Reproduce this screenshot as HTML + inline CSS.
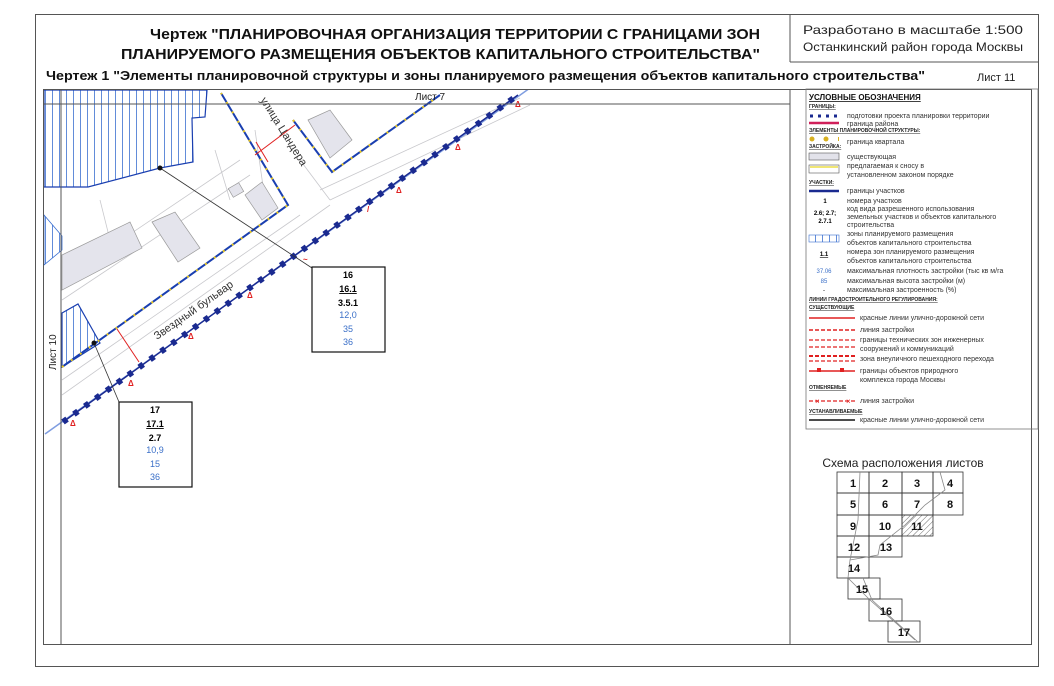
<!DOCTYPE html>
<html><head><meta charset="utf-8"><style>
html,body{margin:0;padding:0;background:#fff}
svg{display:block}
text{font-family:"Liberation Sans",sans-serif}
.lg{font-size:7px;fill:#333}
.hd{font-size:5px;fill:#222;text-decoration:underline;font-weight:bold}
</style></head><body>
<svg width="1054" height="686" viewBox="0 0 1054 686" xmlns="http://www.w3.org/2000/svg">
<defs>
<pattern id="vh" width="7" height="8" patternUnits="userSpaceOnUse"><rect width="7" height="8" fill="#fff"/><line x1="3.5" y1="0" x2="3.5" y2="8" stroke="#3a6fd0" stroke-width="0.8"/></pattern>
<pattern id="dh" width="4" height="4" patternUnits="userSpaceOnUse" patternTransform="rotate(45)"><line x1="0" y1="0" x2="0" y2="4" stroke="#333" stroke-width="0.7"/></pattern>
<clipPath id="mc"><rect x="44" y="90" width="746" height="554"/></clipPath>
</defs>
<rect x="35.5" y="14.5" width="1003" height="652" fill="none" stroke="#555" stroke-width="1"/>
<line x1="790" y1="14" x2="790" y2="62" stroke="#555"/>
<line x1="790" y1="62" x2="1038" y2="62" stroke="#555"/>
<text x="150" y="39" font-size="15" font-weight="bold" fill="#111" textLength="610" lengthAdjust="spacingAndGlyphs">Чертеж "ПЛАНИРОВОЧНАЯ ОРГАНИЗАЦИЯ ТЕРРИТОРИИ С ГРАНИЦАМИ ЗОН</text>
<text x="121" y="59" font-size="15" font-weight="bold" fill="#111" textLength="639" lengthAdjust="spacingAndGlyphs">ПЛАНИРУЕМОГО РАЗМЕЩЕНИЯ ОБЪЕКТОВ КАПИТАЛЬНОГО СТРОИТЕЛЬСТВА"</text>
<text x="803" y="34" font-size="12" fill="#222" textLength="220" lengthAdjust="spacingAndGlyphs">Разработано в масштабе 1:500</text>
<text x="803" y="51" font-size="12" fill="#222" textLength="220" lengthAdjust="spacingAndGlyphs">Останкинский район города Москвы</text>
<text x="46" y="80" font-size="12.5" font-weight="bold" fill="#111" textLength="879" lengthAdjust="spacingAndGlyphs">Чертеж 1 "Элементы планировочной структуры и зоны планируемого размещения объектов капитального строительства"</text>
<text x="977" y="81" font-size="11" fill="#222">Лист 11</text>
<rect x="43.5" y="89.5" width="988" height="555" fill="none" stroke="#555"/>
<line x1="790" y1="90" x2="790" y2="644" stroke="#555"/>

<g clip-path="url(#mc)">
<polygon points="44,90 207,90 205,117 192,118 193,162 160,168 88,187 44,187" fill="url(#vh)" stroke="#1a3fb0" stroke-width="1.2"/>
<polygon points="44,215 62,236 62,250 44,265" fill="url(#vh)" stroke="#3a6fd0" stroke-width="0.8"/>
<polygon points="62,313 78,304 100,343 62,367" fill="url(#vh)" stroke="#1a3fb0" stroke-width="1.2"/>
<g stroke="#c8c8cc" stroke-width="0.8" fill="none">
<line x1="62" y1="380" x2="300" y2="215"/>
<line x1="62" y1="395" x2="330" y2="205"/>
<line x1="62" y1="280" x2="240" y2="160"/>
<line x1="62" y1="300" x2="250" y2="175"/>
<line x1="320" y1="190" x2="520" y2="98"/>
<line x1="330" y1="200" x2="530" y2="105"/>
<line x1="300" y1="160" x2="330" y2="200"/>
<line x1="255" y1="130" x2="265" y2="200"/>
<line x1="215" y1="150" x2="230" y2="200"/>
<line x1="100" y1="200" x2="110" y2="240"/>
</g>
<g fill="#e4e4ec" stroke="#999" stroke-width="0.7">
<polygon points="62,255 130,222 142,248 62,290"/>
<polygon points="152,222 175,212 200,248 178,262"/>
<polygon points="245,195 262,182 278,208 262,220"/>
<polygon points="308,120 330,110 352,140 330,158"/>
<rect x="230" y="185" width="12" height="10" transform="rotate(-30 236 190)"/>
</g>
<g fill="none">
<polyline points="62,367 288,205 221,93" stroke="#1a3fb0" stroke-width="2"/>
<polyline points="62,367 288,205 221,93" stroke="#e8c820" stroke-width="2" stroke-dasharray="2 9"/>
<polyline points="293,120 332,172 440,95" stroke="#1a3fb0" stroke-width="2"/>
<polyline points="293,120 332,172 440,95" stroke="#e8c820" stroke-width="2" stroke-dasharray="2 9"/>
<line x1="45" y1="434" x2="530" y2="88" stroke="#7f9de0" stroke-width="1.5"/>
<line x1="63" y1="422" x2="518" y2="95" stroke="#1a2a90" stroke-width="1.5"/>
<line x1="63" y1="422" x2="518" y2="95" stroke="#1a2a90" stroke-width="6" stroke-dasharray="5 8.4"/>
</g>
<g stroke="#e02020" stroke-width="1" fill="none">
<line x1="117" y1="329" x2="139" y2="362"/>
<line x1="256" y1="142" x2="268" y2="162"/>
<line x1="255" y1="155" x2="295" y2="125"/>
</g>
<g fill="#e02020" font-size="8" font-weight="bold">
<text x="70" y="426">Δ</text><text x="128" y="386">Δ</text><text x="188" y="339">Δ</text><text x="247" y="298">Δ</text>
<text x="396" y="193">Δ</text><text x="455" y="150">Δ</text><text x="515" y="107">Δ</text><text x="367" y="212">/</text><text x="303" y="262">~</text>
</g>
<line x1="61" y1="90" x2="61" y2="644" stroke="#555"/>
<line x1="44" y1="104" x2="790" y2="104" stroke="#555"/>
<text x="415" y="100" font-size="10" fill="#222">Лист 7</text>
<text transform="translate(56,370) rotate(-90)" font-size="10" fill="#222">Лист 10</text>
<text transform="translate(260,100) rotate(58)" font-size="11" fill="#333">улица Цандера</text>
<text transform="translate(157,340) rotate(-35)" font-size="11" fill="#333">Звездный бульвар</text>
</g>
<line x1="160" y1="168" x2="312" y2="268" stroke="#333" stroke-width="0.8"/>
<circle cx="160" cy="168" r="2.5" fill="#111"/>
<line x1="94" y1="343" x2="119" y2="402" stroke="#333" stroke-width="0.8"/>
<circle cx="94" cy="343" r="2.5" fill="#111"/>
<rect x="312" y="267" width="73" height="85" fill="#fff" stroke="#111" stroke-width="1.2"/>
<g font-size="9" text-anchor="middle">
<text x="348" y="278" font-weight="bold">16</text>
<text x="348" y="292" font-weight="bold" text-decoration="underline">16.1</text>
<text x="348" y="306" font-weight="bold">3.5.1</text>
<text x="348" y="318" fill="#3a6fc8">12,0</text>
<text x="348" y="332" fill="#3a6fc8">35</text>
<text x="348" y="345" fill="#3a6fc8">36</text>
</g>
<rect x="119" y="402" width="73" height="85" fill="#fff" stroke="#111" stroke-width="1.2"/>
<g font-size="9" text-anchor="middle">
<text x="155" y="413" font-weight="bold">17</text>
<text x="155" y="427" font-weight="bold" text-decoration="underline">17.1</text>
<text x="155" y="441" font-weight="bold">2.7</text>
<text x="155" y="453" fill="#3a6fc8">10,9</text>
<text x="155" y="467" fill="#3a6fc8">15</text>
<text x="155" y="480" fill="#3a6fc8">36</text>
</g>

<rect x="806" y="89" width="232" height="340" fill="none" stroke="#777" stroke-width="0.8"/>
<text x="809" y="100" font-size="8" font-weight="bold" text-decoration="underline" fill="#111">УСЛОВНЫЕ ОБОЗНАЧЕНИЯ</text>
<text class="hd" x="809" y="108">ГРАНИЦЫ:</text>
<line x1="810" y1="116" x2="839" y2="116" stroke="#1a2a90" stroke-width="3" stroke-dasharray="3 5"/>
<text class="lg" x="847" y="118">подготовки проекта планировки территории</text>
<line x1="809" y1="123" x2="839" y2="123" stroke="#d0205a" stroke-width="2.5"/>
<text class="lg" x="847" y="126">граница района</text>
<text class="hd" x="809" y="132">ЭЛЕМЕНТЫ ПЛАНИРОВОЧНОЙ СТРУКТУРЫ:</text>
<circle cx="812" cy="139" r="2.5" fill="#d8b020"/><circle cx="826" cy="139" r="2.5" fill="#d8b020"/><rect x="838" y="137" width="1" height="4" fill="#d8b020"/>
<text class="lg" x="847" y="144">граница квартала</text>
<text class="hd" x="809" y="148">ЗАСТРОЙКА:</text>
<rect x="809" y="153" width="30" height="7" fill="#e2e2ea" stroke="#555" stroke-width="0.6"/>
<text class="lg" x="847" y="159">существующая</text>
<rect x="809" y="165" width="30" height="8" fill="#fff" stroke="#555" stroke-width="0.6"/>
<line x1="810" y1="167" x2="838" y2="167" stroke="#e8d820" stroke-width="1.2"/>
<text class="lg" x="847" y="168">предлагаемая к сносу в</text>
<text class="lg" x="847" y="177">установленном законом порядке</text>
<text class="hd" x="809" y="184">УЧАСТКИ:</text>
<line x1="809" y1="191" x2="839" y2="191" stroke="#1a2a90" stroke-width="2.5"/>
<text class="lg" x="847" y="193">границы участков</text>
<text x="825" y="203" font-size="6" font-weight="bold" text-anchor="middle">1</text>
<text class="lg" x="847" y="203">номера участков</text>
<text class="lg" x="847" y="211">код вида разрешенного использования</text>
<text x="825" y="215" font-size="6" font-weight="bold" text-anchor="middle">2.6; 2.7;</text>
<text x="825" y="223" font-size="6" font-weight="bold" text-anchor="middle">2.7.1</text>
<text class="lg" x="847" y="219">земельных участков и объектов капитального</text>
<text class="lg" x="847" y="227">строительства</text>
<rect x="809" y="235" width="30" height="7" fill="url(#vh)" stroke="#3a6fd0" stroke-width="0.6"/>
<text class="lg" x="847" y="236">зоны планируемого размещения</text>
<text class="lg" x="847" y="245">объектов капитального строительства</text>
<text x="824" y="256" font-size="6" font-weight="bold" text-anchor="middle" text-decoration="underline">1.1</text>
<text class="lg" x="847" y="254">номера зон планируемого размещения</text>
<text class="lg" x="847" y="263">объектов капитального строительства</text>
<text x="824" y="273" font-size="6" fill="#3a6fc8" text-anchor="middle">37.06</text>
<text class="lg" x="847" y="273">максимальная плотность застройки (тыс кв м/га</text>
<text x="824" y="283" font-size="6" fill="#3a6fc8" text-anchor="middle">85</text>
<text class="lg" x="847" y="283">максимальная высота застройки (м)</text>
<text x="824" y="292" font-size="6" text-anchor="middle">-</text>
<text class="lg" x="847" y="292">максимальная застроенность (%)</text>
<text class="hd" x="809" y="301">ЛИНИИ ГРАДОСТРОИТЕЛЬНОГО РЕГУЛИРОВАНИЯ:</text>
<text class="hd" x="809" y="309">СУЩЕСТВУЮЩИЕ</text>
<line x1="809" y1="318" x2="855" y2="318" stroke="#e02020" stroke-width="1.5"/>
<text class="lg" x="860" y="320">красные линии улично-дорожной сети</text>
<line x1="809" y1="330" x2="855" y2="330" stroke="#e02020" stroke-width="1.5" stroke-dasharray="4 2"/>
<text class="lg" x="860" y="332">линия застройки</text>
<line x1="809" y1="340" x2="855" y2="340" stroke="#e02020" stroke-width="1.2" stroke-dasharray="4 2"/>
<line x1="809" y1="347" x2="855" y2="347" stroke="#e02020" stroke-width="1.2" stroke-dasharray="4 2"/>
<text class="lg" x="860" y="342">границы технических зон инженерных</text>
<text class="lg" x="860" y="351">сооружений и коммуникаций</text>
<line x1="809" y1="356" x2="855" y2="356" stroke="#e02020" stroke-width="2" stroke-dasharray="4 2"/>
<line x1="809" y1="361" x2="855" y2="361" stroke="#e02020" stroke-width="1.2" stroke-dasharray="4 2"/>
<text class="lg" x="860" y="361">зона внеуличного пешеходного перехода</text>
<line x1="809" y1="371" x2="855" y2="371" stroke="#e02020" stroke-width="1.5"/>
<rect x="817" y="368" width="4" height="4" fill="#e02020"/><rect x="840" y="368" width="4" height="4" fill="#e02020"/>
<text class="lg" x="860" y="373">границы объектов природного</text>
<text class="lg" x="860" y="382">комплекса города Москвы</text>
<text class="hd" x="809" y="389">ОТМЕНЯЕМЫЕ</text>
<line x1="809" y1="401" x2="855" y2="401" stroke="#e02020" stroke-width="1.2" stroke-dasharray="4 2"/>
<text x="815" y="404" font-size="8" fill="#e02020">×</text><text x="846" y="404" font-size="8" fill="#e02020">×</text>
<text class="lg" x="860" y="403">линия застройки</text>
<text class="hd" x="809" y="413">УСТАНАВЛИВАЕМЫЕ</text>
<line x1="809" y1="420" x2="855" y2="420" stroke="#111" stroke-width="1.5"/>
<text class="lg" x="860" y="422">красные линии улично-дорожной сети</text>

<text x="903" y="467" font-size="12" text-anchor="middle" fill="#222">Схема расположения листов</text>
<g fill="none" stroke="#333" stroke-width="0.8">
<rect x="837" y="472" width="32" height="21"/><rect x="869" y="472" width="33" height="21"/><rect x="902" y="472" width="31" height="21"/><rect x="933" y="472" width="30" height="21"/>
<rect x="837" y="493" width="32" height="22"/><rect x="869" y="493" width="33" height="22"/><rect x="902" y="493" width="31" height="22"/><rect x="933" y="493" width="30" height="22"/>
<rect x="837" y="515" width="32" height="21"/><rect x="869" y="515" width="33" height="21"/><rect x="902" y="515" width="31" height="21" fill="url(#dh)"/>
<rect x="837" y="536" width="32" height="21"/><rect x="869" y="536" width="33" height="21"/>
<rect x="837" y="557" width="32" height="21"/>
<rect x="848" y="578" width="32" height="21"/>
<rect x="869" y="599" width="33" height="22"/>
<rect x="888" y="621" width="32" height="21"/>
<polyline points="860,472 858,520 850,560 848,578 870,600 915,640" stroke="#888" stroke-width="0.8"/>
<polyline points="863,578 872,600 918,642" stroke="#888" stroke-width="0.8"/>
<polyline points="940,472 945,490 925,505 905,525 880,545 878,555 850,560" stroke="#888" stroke-width="0.8"/>
</g>
<g font-size="11" font-weight="bold" text-anchor="middle" fill="#111">
<text x="853" y="487">1</text><text x="885" y="487">2</text><text x="917" y="487">3</text><text x="950" y="487">4</text>
<text x="853" y="508">5</text><text x="885" y="508">6</text><text x="917" y="508">7</text><text x="950" y="508">8</text>
<text x="853" y="530">9</text><text x="885" y="530">10</text><text x="917" y="530">11</text>
<text x="854" y="551">12</text><text x="886" y="551">13</text>
<text x="854" y="572">14</text><text x="862" y="593">15</text><text x="886" y="615">16</text><text x="904" y="636">17</text>
</g>
</svg>
</body></html>
